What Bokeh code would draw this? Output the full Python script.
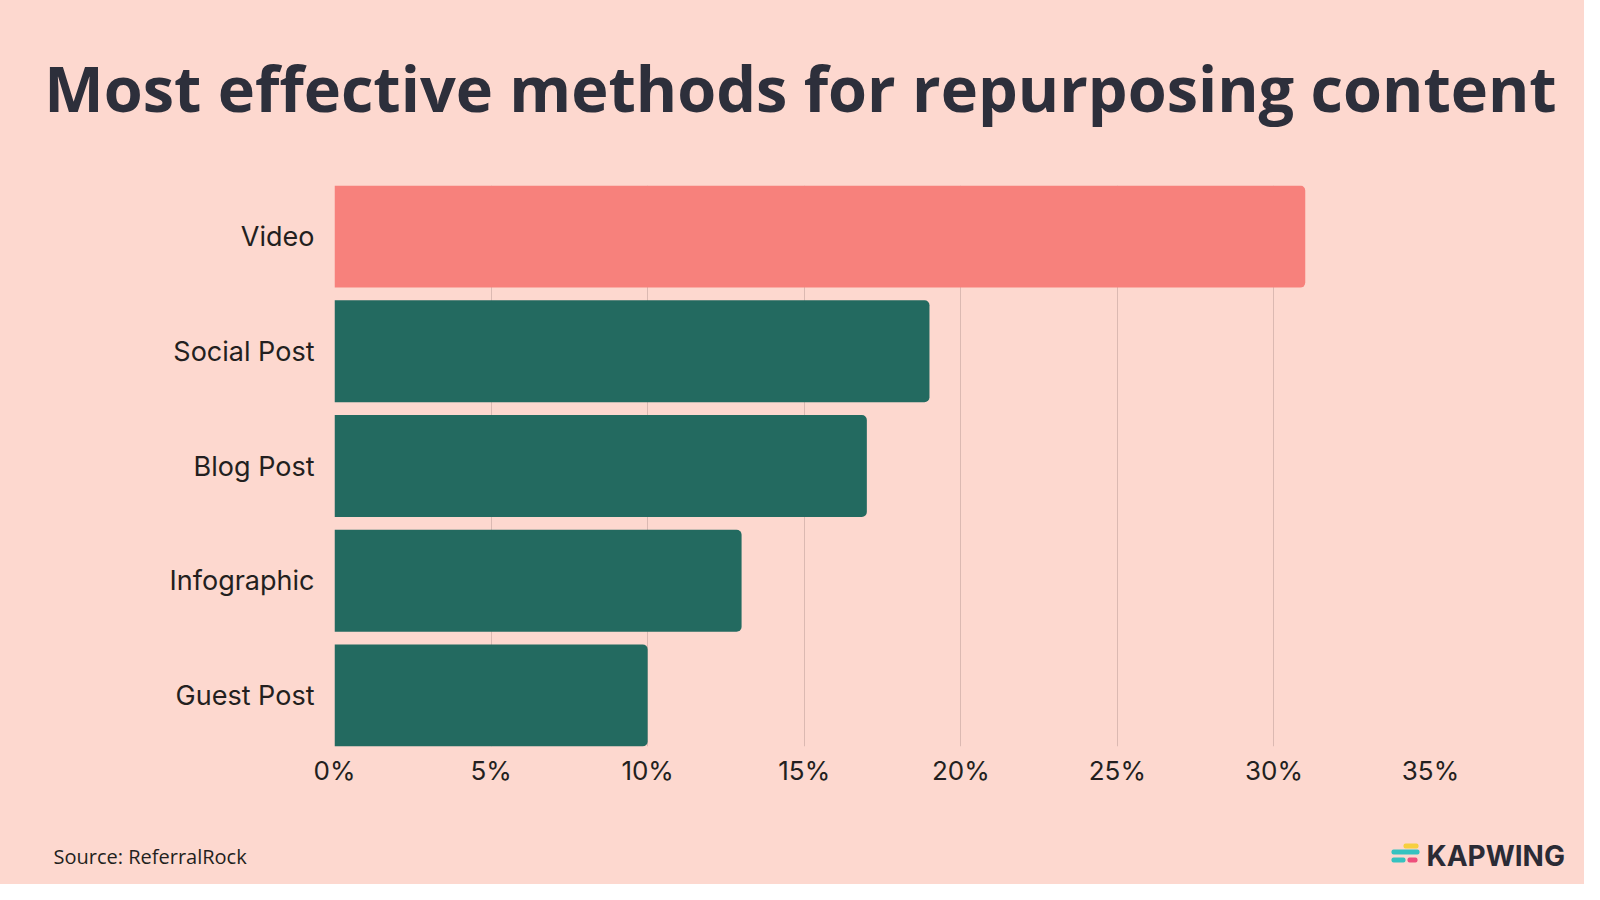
from bokeh.plotting import figure
from bokeh.models import FixedTicker, Range1d, ColumnDataSource
from bokeh.layouts import column
from bokeh.core.properties import value
from bokeh.embed import file_html
from bokeh.resources import INLINE

title_text = "Most effective methods for repurposing content"
source_text = "Source: ReferralRock"
brand_text = "KAPWING"
categories = ["Video", "Social Post", "Blog Post", "Infographic", "Guest Post"]
values = [31, 19, 17, 13, 10]
colors = ["#f7817c", "#236a60", "#236a60", "#236a60", "#236a60"]
x_ticks = [0, 5, 10, 15, 20, 25, 30, 35]
x_tick_labels = {t: f"{t}%" for t in x_ticks}

BG = "#fdd8cf"
W = 1584
TOP_H = 185
MAIN_H = 641
BOT_H = 884 - TOP_H - MAIN_H


def strip(h, y0):
    f = figure(width=W, height=h, output_backend="svg", toolbar_location=None,
               x_range=Range1d(0, W), y_range=Range1d(y0 + h, y0),
               x_axis_type=None, y_axis_type=None,
               min_border=0, min_border_left=0, min_border_right=0,
               min_border_top=0, min_border_bottom=0, frame_align=False)
    f.background_fill_color = BG
    f.border_fill_color = BG
    f.outline_line_color = None
    f.grid.visible = False
    return f


# ---- title strip ----
top = strip(TOP_H, 0)
top.text(x=[800], y=[87], text=[title_text], text_font=value("Open Sans"),
         text_font_style="bold", text_font_size="63px", text_color="#2d2f3b",
         text_align="center", text_baseline="alphabetic")

# ---- main chart ----
n = len(categories)
ypos = [n - 1 - i for i in range(n)]
src = ColumnDataSource(dict(y=ypos, v=values, c=colors))

p = figure(width=W, height=MAIN_H, output_backend="svg", toolbar_location=None,
           x_range=Range1d(0, 35), y_range=Range1d(-0.445, n - 1 + 0.445),
           min_border_left=334, min_border_right=154, min_border_top=0,
           min_border_bottom=MAIN_H - 561, frame_align=False)
p.background_fill_color = BG
p.border_fill_color = BG
p.outline_line_color = None

p.hbar(y="y", left=0, right="v", height=0.89, fill_color="c", line_color=None,
       border_radius=(0, 5, 5, 0), source=src)

p.xaxis.ticker = FixedTicker(ticks=x_ticks)
p.xaxis.major_label_overrides = x_tick_labels
p.yaxis.ticker = FixedTicker(ticks=ypos)
p.yaxis.major_label_overrides = {y: c for y, c in zip(ypos, categories)}
for ax in (p.xaxis, p.yaxis):
    ax.axis_line_color = None
    ax.major_tick_line_color = None
    ax.minor_tick_line_color = None
    ax.major_tick_out = 0
    ax.major_tick_in = 0
    ax.minor_tick_out = 0
    ax.major_label_text_font = "Inter"
    ax.major_label_text_color = "#231f20"
p.xaxis.major_label_text_font_size = "26px"
p.yaxis.major_label_text_font_size = "27px"
p.xaxis.major_label_standoff = 8
p.yaxis.major_label_standoff = 20

p.xgrid.ticker = FixedTicker(ticks=x_ticks)
p.xgrid.grid_line_color = "#dbb9b2"
p.xgrid.grid_line_width = 1
p.ygrid.grid_line_color = None

# ---- footer strip ----
y0 = TOP_H + MAIN_H
bot = strip(BOT_H, y0)
bot.text(x=[53], y=[856], text=[source_text], text_font=value("Open Sans"),
         text_font_size="20px", text_color="#231f20",
         text_align="left", text_baseline="alphabetic")
bot.text(x=[1426], y=[855], text=[brand_text], text_font=value("Inter"),
         text_font_style="bold", text_font_size="28px", text_color="#2b2b35",
         text_align="left", text_baseline="alphabetic")
logo = dict(left=[1403, 1391, 1391, 1407], right=[1418, 1419, 1405, 1417],
            top=[843, 849, 857, 857], bottom=[848, 854, 862, 862],
            c=["#f6cf3f", "#36c2c0", "#36c2c0", "#ee4f7c"])
bot.quad(left="left", right="right", top="top", bottom="bottom", fill_color="c",
         line_color=None, border_radius=2, source=ColumnDataSource(logo))

layout = column(top, p, bot, spacing=0)
layout.styles = {"background-color": BG}
open("out.html", "w").write(file_html(layout, INLINE))
